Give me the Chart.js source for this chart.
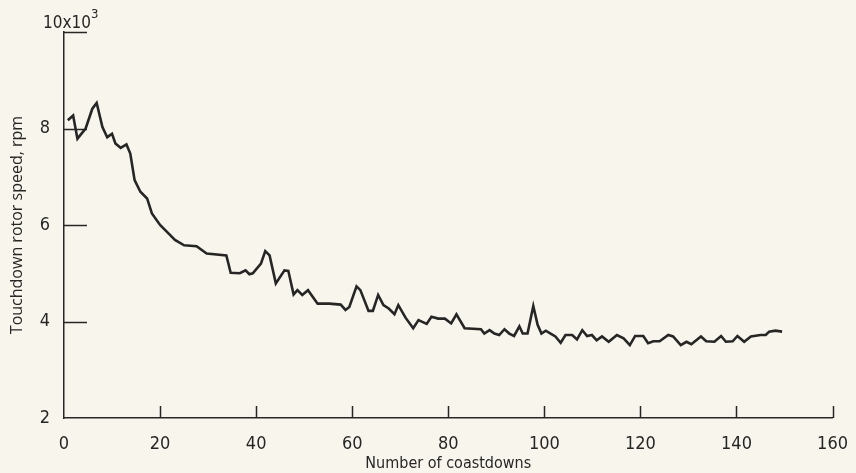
<!DOCTYPE html>
<html>
<head>
<meta charset="utf-8">
<title>Touchdown rotor speed</title>
<script src="https://cdn.jsdelivr.net/npm/chart.js@4/dist/chart.umd.min.js"></script>
<style>
  html, body { margin: 0; padding: 0; background: #f8f6ec; }
  #wrap { width: 856px; height: 473px; position: relative; }
</style>
</head>
<body>
<div id="wrap"><canvas id="rotor-chart" width="856" height="473"></canvas></div>
<script>
// coastdown number and touchdown speed (x10^3 rpm)
const coastdowns = [
  0.8, 1.9, 2.8, 4.5, 5.9, 6.8, 8.0, 9.0, 10.0, 10.7,
  11.8, 13.0, 13.8, 14.7, 15.9, 17.3, 18.3, 20.0, 21.8, 23.1,
  25.0, 27.6, 29.7, 33.8, 34.7, 36.6, 37.8, 38.6, 39.3, 41.0,
  41.9, 42.8, 44.1, 45.9, 46.7, 47.8, 48.6, 49.6, 50.8, 52.8,
  55.2, 57.6, 58.6, 59.4, 60.9, 61.7, 63.4, 64.3, 65.4, 66.5,
  67.6, 68.8, 69.6, 71.1, 72.7, 73.8, 75.5, 76.5, 77.9, 79.3,
  80.6, 81.7, 83.4, 86.8, 87.5, 88.6, 89.6, 90.6, 91.7, 92.7,
  93.7, 94.8, 95.5, 96.5, 97.7, 98.6, 99.4, 100.3, 101.3, 102.3,
  103.4, 104.4, 105.8, 106.8, 107.9, 108.9, 109.9, 110.9, 112.0, 113.4,
  115.1, 116.5, 117.8, 118.9, 120.6, 121.6, 122.7, 124.0, 125.8, 126.8,
  128.4, 129.6, 130.6, 132.6, 133.7, 135.4, 136.8, 137.8, 139.2, 140.2,
  141.6, 143.0, 145.0, 146.1, 146.8, 148.1, 149.5
];
const rotorSpeed = [
  8.17, 8.27, 7.79, 8.00, 8.41, 8.53, 8.03, 7.82, 7.89, 7.69,
  7.60, 7.67, 7.48, 6.93, 6.69, 6.55, 6.24, 6.00, 5.82, 5.69,
  5.58, 5.56, 5.41, 5.37, 5.01, 5.00, 5.06, 4.98, 5.00, 5.20,
  5.46, 5.37, 4.79, 5.06, 5.05, 4.56, 4.65, 4.55, 4.65, 4.37,
  4.37, 4.35, 4.24, 4.30, 4.73, 4.65, 4.22, 4.22, 4.55, 4.34,
  4.27, 4.15, 4.34, 4.08, 3.86, 4.03, 3.95, 4.10, 4.06, 4.06,
  3.96, 4.15, 3.86, 3.84, 3.75, 3.82, 3.75, 3.72, 3.84, 3.75,
  3.70, 3.90, 3.75, 3.75, 4.32, 3.93, 3.75, 3.81, 3.75, 3.69,
  3.56, 3.72, 3.72, 3.63, 3.82, 3.70, 3.72, 3.61, 3.69, 3.58,
  3.72, 3.65, 3.51, 3.70, 3.70, 3.55, 3.59, 3.59, 3.72, 3.69,
  3.51, 3.58, 3.53, 3.69, 3.59, 3.58, 3.70, 3.58, 3.59, 3.70,
  3.58, 3.69, 3.72, 3.72, 3.79, 3.81, 3.79
];
const xTicks = [0, 20, 40, 60, 80, 100, 120, 140, 160];
const yTicks = [2, 4, 6, 8, 10];

const INK = '#262626';
const narrow = "'Liberation Sans Narrow', 'DejaVu Sans Condensed', sans-serif";

// paper background + inward tick marks + the 10x10^3 multiplier
const paperAndTicks = {
  id: 'paperAndTicks',
  beforeDraw(chart) {
    const ctx = chart.ctx;
    ctx.save();
    ctx.fillStyle = '#f8f6ec';
    ctx.fillRect(0, 0, chart.width, chart.height);
    ctx.restore();
  },
  afterDraw(chart) {
    const { ctx, scales: { x, y } } = chart;
    ctx.save();
    ctx.strokeStyle = INK;
    ctx.lineWidth = 1.5;
    ctx.beginPath();
    xTicks.slice(1).forEach(v => {
      const px = Math.round(x.getPixelForValue(v)) + 0.5;
      ctx.moveTo(px, y.bottom);
      ctx.lineTo(px, y.bottom - 12);
    });
    yTicks.slice(1).forEach(v => {
      const py = Math.round(y.getPixelForValue(v)) + 0.5;
      ctx.moveTo(x.left, py);
      ctx.lineTo(x.left + 23, py);
    });
    ctx.stroke();

    // axis multiplier at the top of the y axis
    const topY = y.getPixelForValue(10);
    ctx.fillStyle = INK;
    ctx.textBaseline = 'alphabetic';
    ctx.textAlign = 'left';
    ctx.font = '17px ' + narrow;
    const base = '10x10';
    ctx.fillText(base, 43, topY - 4);
    const w = ctx.measureText(base).width;
    ctx.font = '13px ' + narrow;
    ctx.fillText('3', 43 + w, topY - 14);
    ctx.restore();
  }
};

const ctx = document.getElementById('rotor-chart').getContext('2d');
new Chart(ctx, {
  type: 'line',
  data: {
    datasets: [{
      data: coastdowns.map((c, i) => ({ x: c, y: rotorSpeed[i] })),
      borderColor: INK,
      borderWidth: 2.6,
      pointRadius: 0,
      tension: 0,
      fill: false
    }]
  },
  options: {
    responsive: false,
    animation: false,
    layout: { padding: { top: 32, right: 19, left: 0, bottom: 0 } },
    plugins: {
      legend: { display: false },
      tooltip: { enabled: false }
    },
    scales: {
      x: {
        type: 'linear',
        min: 0,
        max: 160,
        afterFit: (scale) => { scale.height = 55; },
        afterBuildTicks: (scale) => { scale.ticks = xTicks.map(v => ({ value: v })); },
        grid: { display: false },
        border: { display: true, color: INK, width: 1.5 },
        ticks: {
          color: INK,
          padding: 8,
          maxRotation: 0,
          font: { family: narrow, size: 18 }
        },
        title: {
          display: true,
          text: 'Number of coastdowns',
          color: INK,
          padding: { top: 0, bottom: 0 },
          font: { family: narrow, size: 16 }
        }
      },
      y: {
        min: 2,
        max: 10,
        afterFit: (scale) => { scale.width = 64; },
        afterBuildTicks: (scale) => { scale.ticks = yTicks.map(v => ({ value: v })); },
        grid: { display: false },
        border: { display: true, color: INK, width: 1.5 },
        ticks: {
          color: INK,
          padding: 6,
          font: { family: narrow, size: 18 },
          callback: (v) => (v === 10 ? '' : String(v))
        },
        title: {
          display: true,
          text: 'Touchdown rotor speed, rpm',
          color: INK,
          padding: { top: 8, bottom: 0 },
          font: { family: "'Open Sans', 'DejaVu Sans', sans-serif", size: 16 }
        }
      }
    }
  },
  plugins: [paperAndTicks]
});
</script>
</body>
</html>
